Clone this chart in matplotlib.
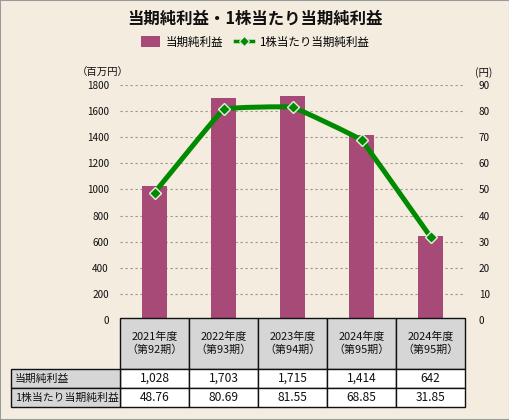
import matplotlib
matplotlib.use("Agg")
import matplotlib.pyplot as plt
from matplotlib.patches import Rectangle
from matplotlib.path import Path
from matplotlib.patches import PathPatch
from matplotlib.lines import Line2D

plt.rcParams['font.family'] = ['Noto Sans CJK JP', 'DejaVu Sans']

title = "当期純利益・1株当たり当期純利益"
series_bar_name = "当期純利益"
series_line_name = "1株当たり当期純利益"
categories = ["2021年度\n（第92期）", "2022年度\n（第93期）", "2023年度\n（第94期）",
              "2024年度\n（第95期）", "2024年度\n（第95期）"]
net_income = [1028, 1703, 1715, 1414, 642]
eps = [48.76, 80.69, 81.55, 68.85, 31.85]
net_income_labels = ["1,028", "1,703", "1,715", "1,414", "642"]
eps_labels = ["48.76", "80.69", "81.55", "68.85", "31.85"]
left_ticks = list(range(0, 1801, 200))
right_ticks = list(range(0, 91, 10))

W, H = 510, 420
BG = "#f3ecdf"
BAR = "#a84a78"
GREEN = "#008a00"

fig = plt.figure(figsize=(W / 100, H / 100), dpi=100, facecolor=BG)
fig.patches.append(Rectangle((0, 0), 1, 1, transform=fig.transFigure, fill=False,
                             edgecolor="#9a9a9a", linewidth=1.5))

def fx(px):
    return px / W

def fy(py):
    return 1 - py / H

x0, x1, ytop, ybot = 120, 465, 85, 320
ax = fig.add_axes([fx(x0), fy(ybot), fx(x1) - fx(x0), fy(ytop) - fy(ybot)])
ax.set_facecolor(BG)
ax.patch.set_alpha(0)
ax2 = ax.twinx()
n = len(categories)
xs = list(range(n))
ax.set_xlim(-0.5, n - 0.5)
ax.set_ylim(0, 1800)
ax2.set_ylim(0, 90)
for a in (ax, ax2):
    for s in a.spines.values():
        s.set_visible(False)
    a.tick_params(length=0, labelsize=7.2, colors="#111111")
ax.set_xticks([])
ax.set_yticks(left_ticks)
ax2.set_yticks(right_ticks)
ax.tick_params(axis='y', pad=8)
ax2.tick_params(axis='y', pad=10)
for t in left_ticks[1:]:
    ax.axhline(t, color="#9a948c", lw=0.8, ls=(0, (2, 2.5)), zorder=0)

ax.bar(xs, net_income, width=0.36, color=BAR, zorder=2)

# lightly smoothed line (Bezier curves through the data points)
k = 0.15
pts = list(zip(xs, eps))
verts = [pts[0]]
codes = [Path.MOVETO]
for i in range(len(pts) - 1):
    p0 = pts[i - 1] if i > 0 else pts[i]
    p1 = pts[i]
    p2 = pts[i + 1]
    p3 = pts[i + 2] if i + 2 < len(pts) else pts[i + 1]
    c1 = (p1[0] + k * (p2[0] - p0[0]) / 6, p1[1] + k * (p2[1] - p0[1]) / 6)
    c2 = (p2[0] - k * (p3[0] - p1[0]) / 6, p2[1] - k * (p3[1] - p1[1]) / 6)
    verts += [c1, c2, p2]
    codes += [Path.CURVE4] * 3
ax2.add_patch(PathPatch(Path(verts, codes), fill=False, edgecolor=GREEN, lw=3.6,
                        zorder=3, capstyle='round', joinstyle='round'))
ax2.plot(xs, eps, ls='none', marker='D', ms=6.5, mfc=GREEN, mec="#e8f0e0",
         mew=1.0, zorder=4)

# title & legend
fig.text(0.5, fy(19), title, ha='center', va='center', fontsize=11.8,
         fontweight='bold', color="#111111")
handles = [Rectangle((0, 0), 1, 1, facecolor=BAR, edgecolor='none'),
           Line2D([0], [0], color=GREEN, lw=2.5, marker='D', ms=5.5, mfc=GREEN,
                  mec="#e8f0e0", mew=0.8)]
fig.legend(handles, [series_bar_name, series_line_name], loc='center',
           bbox_to_anchor=(0.5, fy(42)), ncol=2, frameon=False, fontsize=8.3,
           handlelength=1.6, handleheight=1.0, columnspacing=1.0, handletextpad=0.5)

fig.text(fx(77), fy(73), "（百万円）", ha='left', va='center', fontsize=7.5, color="#111111")
fig.text(fx(484), fy(73), "(円)", ha='center', va='center', fontsize=7.5, color="#111111")

# table
col_edges = [120, 189, 258, 327, 396, 465]
hdr_top, hdr_bot, r1_bot, r2_bot = 318, 369, 388, 407
lab_left = 11

def rect(xa, ya, xb, yb, fc):
    fig.patches.append(Rectangle((fx(xa), fy(yb)), fx(xb) - fx(xa), fy(ya) - fy(yb),
                                 transform=fig.transFigure, facecolor=fc,
                                 edgecolor="#111111", linewidth=1.0, zorder=5))

for i in range(n):
    xa, xb = col_edges[i], col_edges[i + 1]
    rect(xa, hdr_top, xb, hdr_bot, "#d6d6d6")
    rect(xa, hdr_bot, xb, r1_bot, "#ffffff")
    rect(xa, r1_bot, xb, r2_bot, "#ffffff")
    cx = fx((xa + xb) / 2)
    fig.text(cx, fy((hdr_top + hdr_bot) / 2), categories[i], ha='center', va='center',
             fontsize=7.9, linespacing=1.3, color="#111111", zorder=6)
    fig.text(cx, fy((hdr_bot + r1_bot) / 2), net_income_labels[i], ha='center',
             va='center', fontsize=8.6, color="#111111", zorder=6)
    fig.text(cx, fy((r1_bot + r2_bot) / 2), eps_labels[i], ha='center',
             va='center', fontsize=8.6, color="#111111", zorder=6)

rect(lab_left, hdr_bot, col_edges[0], r1_bot, "#d6d6d6")
rect(lab_left, r1_bot, col_edges[0], r2_bot, "#d6d6d6")
fig.text(fx(lab_left + 4), fy((hdr_bot + r1_bot) / 2), series_bar_name, ha='left',
         va='center', fontsize=7.8, color="#111111", zorder=6)
fig.text(fx(lab_left + 4), fy((r1_bot + r2_bot) / 2), series_line_name, ha='left',
         va='center', fontsize=7.8, color="#111111", zorder=6)

fig.savefig("out.png", dpi=100, facecolor=BG)
